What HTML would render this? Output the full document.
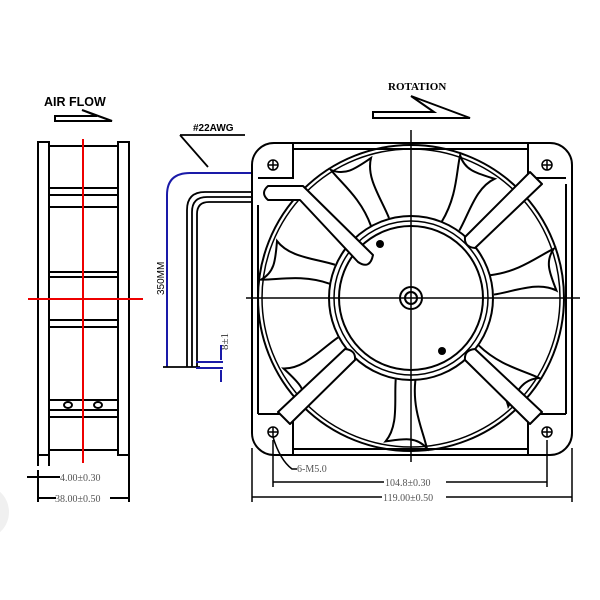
<!DOCTYPE html>
<html><head><meta charset="utf-8"><style>
html,body{margin:0;padding:0;background:#fff;}
svg{display:block;}
.s{font-family:"Liberation Serif",serif;}
.a{font-family:"Liberation Sans",sans-serif;}
</style></head><body>
<svg width="600" height="600" viewBox="0 0 600 600" xmlns="http://www.w3.org/2000/svg">
<circle cx="-18" cy="512" r="27" fill="#f0f0f0"/>
<!-- AIR FLOW -->
<text class="a" x="44" y="106" font-weight="bold" font-size="12.5">AIR FLOW</text>
<path d="M55,116 H97 L82,110 L112,121 H55 Z" fill="none" stroke="#000" stroke-width="2"/>
<!-- side view -->
<g fill="none" stroke="#000" stroke-width="2">
<rect x="38" y="142" width="11" height="313"/>
<rect x="118" y="142" width="11" height="313"/>
<line x1="38" y1="455" x2="38" y2="466"/>
<line x1="49" y1="455" x2="49" y2="466"/>
<line x1="49" y1="146" x2="118" y2="146"/>
<line x1="49" y1="188" x2="118" y2="188"/>
<line x1="49" y1="195" x2="118" y2="195"/>
<line x1="49" y1="207" x2="118" y2="207"/>
<line x1="49" y1="272" x2="118" y2="272"/>
<line x1="49" y1="277" x2="118" y2="277"/>
<line x1="49" y1="320" x2="118" y2="320"/>
<line x1="49" y1="327" x2="118" y2="327"/>
<line x1="49" y1="400" x2="118" y2="400"/>
<line x1="49" y1="410" x2="118" y2="410"/>
<line x1="49" y1="417" x2="118" y2="417"/>
<line x1="49" y1="450" x2="118" y2="450"/>
<ellipse cx="68" cy="405" rx="4" ry="3"/>
<ellipse cx="98" cy="405" rx="4" ry="3"/>
</g>
<line x1="83" y1="139" x2="83" y2="463" stroke="#e00" stroke-width="2"/>
<line x1="28" y1="299" x2="143" y2="299" stroke="#e00" stroke-width="2"/>
<!-- side dims -->
<g stroke="#000" stroke-width="2">
<line x1="27" y1="477" x2="60" y2="477"/>
<line x1="38" y1="470" x2="38" y2="502"/>
<line x1="129" y1="455" x2="129" y2="502"/>
<line x1="38" y1="498" x2="56" y2="498"/>
<line x1="110" y1="498" x2="129" y2="498"/>
</g>
<text class="s" x="60" y="481" font-size="10" fill="#555">4.00±0.30</text>
<text class="s" x="55" y="502" font-size="10" fill="#555">38.00±0.50</text>
<!-- cable -->
<path d="M167,367 V195 Q167,173 190,173 H252" fill="none" stroke="#1a1aa8" stroke-width="2"/>
<g fill="none" stroke="#000" stroke-width="1.8">
<path d="M187,367 V210 Q187,192 205,192 H252"/>
<path d="M192,367 V212 Q192,197 207,197 H252"/>
<path d="M197,367 V214 Q197,202 209,202 H252"/>
<line x1="163" y1="367" x2="200" y2="367"/>
<path d="M180,135 H245"/>
<path d="M180,135 L208,167"/>
</g>
<text class="a" x="193" y="131" font-weight="bold" font-size="10">#22AWG</text>
<text class="a" transform="translate(164,295) rotate(-90)" font-size="10">350MM</text>
<text class="s" transform="translate(228,350) rotate(-90)" font-size="11" fill="#333">8±1</text>
<g stroke="#1a1aa8" stroke-width="2">
<line x1="196" y1="362" x2="223" y2="362"/>
<line x1="196" y1="368" x2="223" y2="368"/>
<line x1="221" y1="345" x2="221" y2="360"/>
<line x1="221" y1="370" x2="221" y2="382"/>
</g>
<!-- ROTATION -->
<text class="s" x="388" y="90" font-weight="bold" font-size="11">ROTATION</text>
<path d="M373,112 H434 L411,96 L470,118 H373 Z" fill="none" stroke="#000" stroke-width="2"/>
<!-- fan -->
<g fill="none" stroke="#000" stroke-width="2">
<rect x="252" y="143" width="320" height="312" rx="22"/>
<path d="M293,143 V178 H258"/>
<path d="M293,455 V414 H258"/>
<path d="M528,143 V178 H566"/>
<path d="M528,455 V414 H566"/>
<line x1="293" y1="149" x2="528" y2="149"/>
<line x1="293" y1="449" x2="528" y2="449"/>
<line x1="258" y1="205" x2="258" y2="414"/>
<line x1="566" y1="184" x2="566" y2="414"/>
<circle cx="411" cy="298" r="153"/>
<circle cx="411" cy="298" r="149" stroke-width="1.5"/>
<circle cx="411" cy="298" r="82"/>
<circle cx="411" cy="298" r="77" stroke-width="1.5"/>
<circle cx="411" cy="298" r="72"/>
<circle cx="411" cy="298" r="11"/>
<circle cx="411" cy="298" r="6"/>
<g transform="translate(411,298)">
<g id="bl"><path d="M-40,-72 C-50,-100 -70,-115 -80,-128 C-65,-122 -55,-130 -40,-140 C-45,-120 -30,-100 -22,-80"/></g>
<use href="#bl" transform="rotate(51)"/>
<use href="#bl" transform="rotate(103)"/>
<use href="#bl" transform="rotate(154)"/>
<use href="#bl" transform="rotate(206)"/>
<use href="#bl" transform="rotate(257)"/>
<use href="#bl" transform="rotate(309)"/>
</g>
</g>
<!-- struts -->
<g stroke="#000" stroke-width="2" fill="#fff" stroke-linejoin="round">
<path d="M465,237 L530,172 L542,184 L475,248 Q464,247 465,237 Z"/>
<path d="M465,360 L530,424 L542,412 L475,349 Q464,350 465,360 Z"/>
<path d="M355,360 L290,424 L278,412 L345,349 Q356,350 355,360 Z"/>
<path d="M268,186 H303 L373,255 Q370,270 358,262 L300,200 H268 Q260,193 268,186 Z"/>
</g>
<g fill="none" stroke="#000" stroke-width="1.5">
<circle cx="273" cy="165" r="5"/><path d="M268,165H278M273,160V170"/>
<circle cx="547" cy="165" r="5"/><path d="M542,165H552M547,160V170"/>
<circle cx="273" cy="432" r="5"/><path d="M268,432H278M273,427V437"/>
<circle cx="547" cy="432" r="5"/><path d="M542,432H552M547,427V437"/>
</g>
<circle cx="380" cy="244" r="4" fill="#000"/>
<circle cx="442" cy="351" r="4" fill="#000"/>
<g stroke="#000" stroke-width="1.5">
<line x1="411" y1="130" x2="411" y2="462"/>
<line x1="246" y1="298" x2="580" y2="298"/>
</g>
<!-- fan dims -->
<g stroke="#000" stroke-width="1.5" fill="none">
<path d="M273,437 Q280,460 292,469 H297"/>
<line x1="273" y1="440" x2="273" y2="487"/>
<line x1="547" y1="440" x2="547" y2="487"/>
<line x1="273" y1="482" x2="384" y2="482"/>
<line x1="446" y1="482" x2="547" y2="482"/>
<line x1="252" y1="448" x2="252" y2="502"/>
<line x1="572" y1="448" x2="572" y2="502"/>
<line x1="252" y1="497" x2="382" y2="497"/>
<line x1="446" y1="497" x2="572" y2="497"/>
</g>
<text class="s" x="297" y="472" font-size="10" fill="#555">6-M5.0</text>
<text class="s" x="385" y="486" font-size="10" fill="#555">104.8±0.30</text>
<text class="s" x="383" y="501" font-size="10" fill="#555">119.00±0.50</text>
</svg>
</body></html>
